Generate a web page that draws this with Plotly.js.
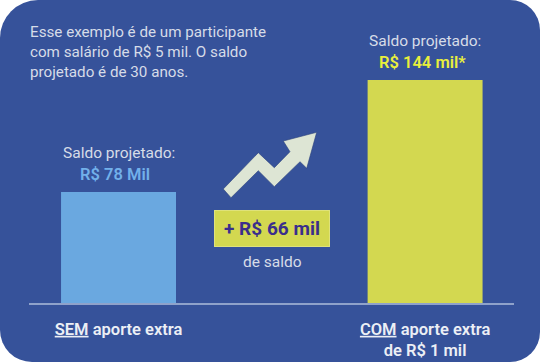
<!DOCTYPE html>
<html>
<head>
<meta charset="utf-8">
<script src="https://cdn.plot.ly/plotly-3.0.1.min.js"></script>
<style>
  html, body { margin: 0; padding: 0; background: #ffffff; }
  #chart { width: 540px; height: 362px; border-radius: 38px 30px 30px 32px; overflow: hidden; }
</style>
</head>
<body>
<div id="chart"></div>
<script>
// ---- data ----
var categories = ["<u>SEM</u> aporte extra", "<u>COM</u> aporte extra<br>de R$ 1 mil"];
var values = [78, 144];
var valueLabels = ["R$ 78 Mil", "R$ 144 mil*"];
var headerLabel = "Saldo projetado:";
var introText = "Esse exemplo é de um participante<br>com salário de R$ 5 mil. O saldo<br>projetado é de 30 anos.";
var gainSuffix = "de saldo";

// ---- styles ----
var BG = "#36529a";
var barColors = ["#6aa8e0", "#d3d850"];
var valueColors = ["#72b0ea", "#e9ef3c"];
var lightText = "#d6dce8";
var FONT = "Roboto, 'Open Sans', sans-serif";

var W = 540, H = 362;
var M = {l: 29, r: 26, t: 20, b: 59};
var pw = W - M.l - M.r, ph = H - M.t - M.b;
function px(X) { return (X - M.l) / pw; }
function py(Y) { return (H - M.b - Y) / ph; }

var xpos = categories.map(function (c, i) { return i; });

var trace = {
  type: "bar",
  x: xpos,
  y: values,
  width: 0.375,
  marker: {color: barColors, line: {width: 0}},
  hoverinfo: "none"
};

var annotations = [];
values.forEach(function (v, i) {
  annotations.push({
    x: xpos[i], y: v, xref: "x", yref: "y",
    text: headerLabel, showarrow: false,
    xanchor: "center", yanchor: "middle", yshift: 39,
    font: {family: FONT, size: 15.5, color: lightText}
  });
  annotations.push({
    x: xpos[i] - 0.01, y: v, xref: "x", yref: "y",
    text: valueLabels[i], showarrow: false,
    xanchor: "center", yanchor: "middle", yshift: 18,
    font: {family: FONT, size: 16.5, color: valueColors[i], weight: 600}
  });
});

// intro paragraph
annotations.push({
  xref: "paper", yref: "paper", x: px(28), y: py(51.5),
  xanchor: "left", yanchor: "middle", align: "left",
  text: introText, showarrow: false,
  font: {family: FONT, size: 15.2, color: lightText}
});

// gain box
var gain = values[1] - values[0];
annotations.push({
  xref: "paper", yref: "paper", x: px(271.5), y: py(228),
  xanchor: "center", yanchor: "middle",
  text: "+ R$ " + gain + " mil", showarrow: false,
  width: 112, height: 33,
  bgcolor: "#d3d850", bordercolor: "#dfe27a", borderwidth: 1, borderpad: 1,
  font: {family: FONT, size: 19, color: "#3a2e8c", weight: 700}
});
annotations.push({
  xref: "paper", yref: "paper", x: px(272), y: py(262),
  xanchor: "center", yanchor: "middle",
  text: gainSuffix, showarrow: false,
  font: {family: FONT, size: 15.5, color: lightText}
});

// zig-zag arrow (decoration)
var arrowPts = [
  [223.3, 189], [258.3, 152.7], [274.3, 167.7], [290, 151.7], [283.3, 141],
  [316.7, 132.3], [306.7, 168.3], [300, 161.7], [274.3, 186.7], [258.3, 170.7],
  [231, 197.7]
];
var arrowPath = arrowPts.map(function (p, k) {
  return (k === 0 ? "M" : "L") + px(p[0]).toFixed(4) + "," + py(p[1]).toFixed(4);
}).join(" ") + " Z";

var layout = {
  width: W, height: H,
  margin: M,
  paper_bgcolor: BG,
  plot_bgcolor: "rgba(0,0,0,0)",
  showlegend: false,
  font: {family: FONT},
  xaxis: {
    range: [-0.292, 1.290],
    tickvals: xpos,
    ticktext: categories,
    showgrid: false, zeroline: false,
    showline: true, linecolor: "#8fa2ca", linewidth: 2,
    ticks: "outside", ticklen: 10, tickcolor: "rgba(0,0,0,0)",
    tickfont: {family: FONT, size: 16.5, color: "#eceff5", weight: 600},
    fixedrange: true
  },
  yaxis: {
    range: [12.6, 179.4],
    visible: false, showgrid: false, zeroline: false,
    fixedrange: true
  },
  annotations: annotations,
  shapes: [{
    type: "path", xref: "paper", yref: "paper",
    path: arrowPath,
    fillcolor: "#dde5d4",
    line: {color: "#2a3f7a", width: 0.6},
    layer: "above"
  }]
};

Plotly.newPlot("chart", [trace], layout, {displayModeBar: false, staticPlot: true});
</script>
</body>
</html>
